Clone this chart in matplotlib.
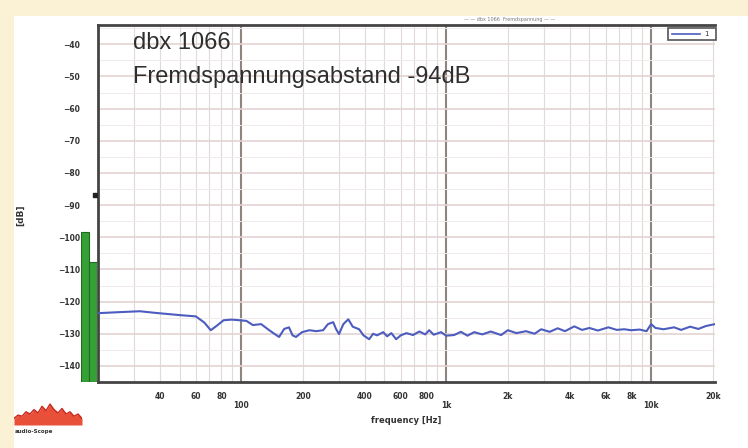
import matplotlib
matplotlib.use("Agg")
import matplotlib.pyplot as plt
from matplotlib.patches import Rectangle
from matplotlib.lines import Line2D
import numpy as np

# ---------------- data ----------------
freq_hz = [20, 25, 32, 38, 50, 60, 66, 71, 76, 82, 90, 98, 106, 114, 125, 137, 145,
           153, 162, 171, 178, 185, 198, 215, 232, 251, 265, 281, 290, 300, 315, 333,
           350, 376, 395, 421, 440, 460, 493, 515, 540, 570, 600, 640, 689, 740, 790,
           826, 870, 944, 1000, 1093, 1180, 1270, 1370, 1500, 1650, 1853, 2000, 2200,
           2450, 2700, 2907, 3200, 3500, 3800, 4218, 4600, 5000, 5500, 6186, 6800,
           7400, 7986, 8800, 9500, 10000, 10500, 11500, 12950, 14000, 15500, 17000,
           18500, 20500]
level_db = [-123.6, -123.3, -123.0, -123.5, -124.2, -124.6, -126.5, -128.9, -127.5,
            -125.8, -125.6, -125.8, -126.0, -127.3, -127.0, -128.9, -130.0, -131.0,
            -128.5, -128.0, -130.5, -131.0, -129.5, -128.9, -129.2, -128.9, -127.0,
            -126.4, -128.5, -130.1, -127.0, -125.5, -127.8, -128.6, -130.5, -131.7,
            -130.0, -130.5, -129.5, -130.8, -129.8, -131.7, -130.5, -129.8, -130.4,
            -129.3, -130.2, -128.9, -130.3, -129.5, -130.6, -130.4, -129.4, -130.6,
            -129.5, -130.2, -129.3, -130.4, -128.9, -129.8, -129.2, -130.0, -128.6,
            -129.4, -128.3, -129.2, -127.7, -128.8, -128.2, -129.0, -128.0, -128.8,
            -128.6, -128.9, -128.7, -129.2, -127.0, -128.2, -128.6, -128.0, -128.8,
            -127.8, -128.5, -127.6, -127.0]

meter_channels = ["L", "R"]
meter_levels = [-97.7, -107.0]
meter_peak = -86.3

y_ticks = [-40, -50, -60, -70, -80, -90, -100, -110, -120, -130, -140]
x_major_ticks = [100, 1000, 10000]
x_major_labels = ["100", "1k", "10k"]
x_minor_ticks = [30, 40, 50, 60, 70, 80, 90,
                 200, 300, 400, 500, 600, 700, 800, 900,
                 2000, 3000, 4000, 5000, 6000, 7000, 8000, 9000, 20000]
x_minor_labels = ["", "40", "", "60", "", "80", "",
                  "200", "", "400", "", "600", "", "800", "",
                  "2k", "", "4k", "", "6k", "", "8k", "", "20k"]

title_1 = "dbx 1066"
title_2 = "Fremdspannungsabstand -94dB"
x_label = "frequency [Hz]"
y_label = "[dB]"

logo_y = [0.30, 0.45, 0.40, 0.60, 0.50, 0.70, 0.55, 0.85, 0.65, 0.95, 0.70, 0.55,
          0.75, 0.50, 0.60, 0.40, 0.50, 0.30]

# ---------------- figure ----------------
W, H = 748, 448
fig = plt.figure(figsize=(W / 100, H / 100), dpi=100)
fig.patch.set_facecolor("#fbf1d5")
fig.add_artist(Rectangle((14 / W, 0), 1 - 14 / W, 1 - 16 / H,
                         transform=fig.transFigure, facecolor="white",
                         edgecolor="none", zorder=0))

def fx(px):
    return px / W

def fy(py):
    return 1 - py / H

ax_left, ax_right, ax_top, ax_bot = 98, 715, 25, 382
ax = fig.add_axes([fx(ax_left), fy(ax_bot), fx(ax_right - ax_left), (ax_bot - ax_top) / H])
ax.set_facecolor("white")
ax.set_xscale("log")
ax.set_xlim(20, 20500)
ax.set_ylim(-144, -34)

# grid
ax.set_yticks(y_ticks)
ax.set_yticks(np.arange(-145, -34, 5), minor=True)
ax.set_xticks(x_major_ticks)
ax.set_xticklabels(x_major_labels)
ax.set_xticks(x_minor_ticks, minor=True)
ax.set_xticklabels(x_minor_labels, minor=True)
ax.grid(True, which="major", axis="x", color="#8f8580", lw=1.5)
ax.grid(True, which="minor", axis="x", color="#e2dada", lw=0.8)
ax.grid(True, which="major", axis="y", color="#e3d3d1", lw=1.2)
ax.grid(True, which="minor", axis="y", color="#f1eaea", lw=0.7)
ax.set_axisbelow(True)

ax.tick_params(axis="both", which="both", length=0)
ax.tick_params(axis="y", pad=13, labelsize=5.5, labelcolor="#333333")
ax.tick_params(axis="x", which="minor", pad=7, labelsize=5.5, labelcolor="#333333")
ax.tick_params(axis="x", which="major", pad=14, labelsize=5.5, labelcolor="#333333")
for lab in ax.get_yticklabels() + ax.get_xticklabels() + ax.get_xticklabels(minor=True):
    lab.set_fontweight("bold")

for s in ["left", "bottom", "top"]:
    ax.spines[s].set_color("#444444")
    ax.spines[s].set_linewidth(2.0)
ax.spines["right"].set_visible(False)

# curve
ax.plot(freq_hz, level_db, color="#4d5cbf", lw=1.5, zorder=3)

# texts inside
ax.text(0.057, 0.949, title_1, transform=ax.transAxes, fontsize=17,
        family="Liberation Sans", color="#2e2e2e", va="center", ha="left")
ax.text(0.057, 0.854, title_2, transform=ax.transAxes, fontsize=17,
        family="Liberation Sans", color="#2e2e2e", va="center", ha="left")

ax.set_xlabel(x_label, fontsize=6, fontweight="bold", color="#333333", labelpad=4)
fig.text(fx(21), fy(215), y_label, rotation=90, fontsize=6.5, fontweight="bold",
         color="#333333", ha="center", va="center")

# small top caption
fig.text(fx(510), fy(20), "— — dbx 1066  Fremdspannung — —", fontsize=3.5,
         color="#777777", ha="center", va="center")

# legend box top right
fig.add_artist(Rectangle((fx(668), fy(40)), fx(48), 12 / H, transform=fig.transFigure,
                         facecolor="white", edgecolor="#555555", lw=1.2, zorder=5))
fig.add_artist(Line2D([fx(672), fx(700)], [fy(34), fy(34)], transform=fig.transFigure,
                      color="#4d5cbf", lw=1.2, zorder=6))
fig.text(fx(706), fy(34), "1", fontsize=5, color="#333333", ha="center", va="center",
         zorder=6)

# level meters
axm = fig.add_axes([fx(81), fy(ax_bot), fx(16), (ax_bot - ax_top) / H])
axm.set_xlim(0, 2)
axm.set_ylim(-144, -34)
axm.bar([0.5, 1.5], [m - (-144) for m in meter_levels], bottom=-144, width=1.0,
        color="#35a035", edgecolor="#1f6a1f", lw=0.8)
axm.plot([1.7], [meter_peak], marker="s", ms=2.5, color="#222222")
axm.axis("off")
axm.patch.set_visible(False)

# logo
axl = fig.add_axes([fx(14), fy(425), fx(68), 22 / H])
xs = np.arange(len(logo_y))
axl.fill_between(xs, 0, logo_y, color="#e8503a", lw=0)
axl.plot(xs, logo_y, color="#c8281e", lw=1.0)
axl.set_xlim(0, len(logo_y) - 1)
axl.set_ylim(0, 1)
axl.axis("off")
fig.text(fx(15), fy(431), "audio-Scope", fontsize=4, color="#333333", ha="left",
         va="center", fontweight="bold")

fig.savefig("out.png", dpi=100, facecolor=fig.get_facecolor())
